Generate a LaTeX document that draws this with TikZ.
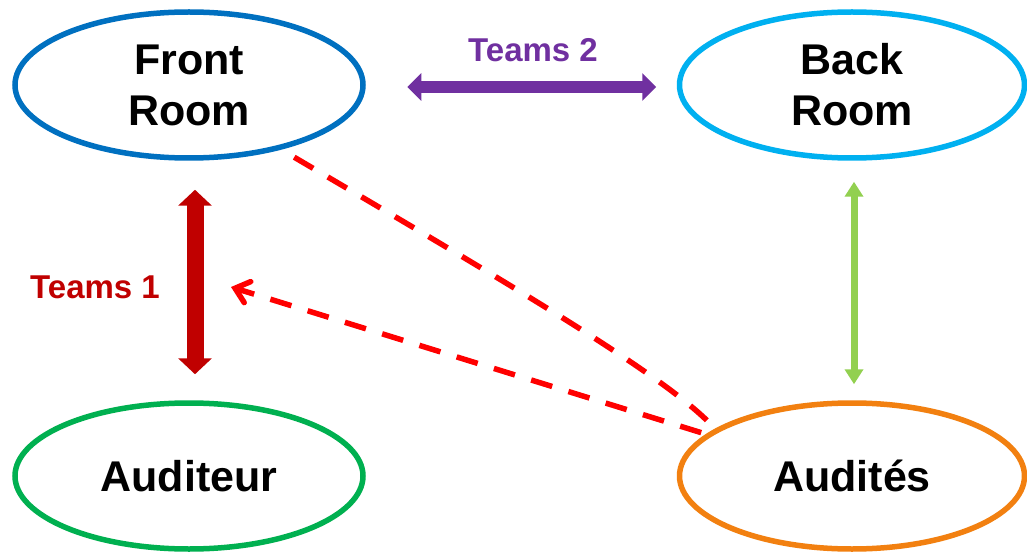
\documentclass[tikz,border=0pt]{standalone}
\usepackage{fontspec}
\setmainfont{Liberation Sans}
\usetikzlibrary{shapes.geometric,arrows.meta}
\definecolor{frblue}{RGB}{0,112,192}
\definecolor{brblue}{RGB}{0,176,240}
\definecolor{augreen}{RGB}{0,176,80}
\definecolor{adorange}{RGB}{242,128,16}
\definecolor{tpurple}{RGB}{112,48,160}
\definecolor{tdarkred}{RGB}{192,0,0}
\definecolor{lgreen}{RGB}{146,208,80}
\definecolor{dashred}{RGB}{255,0,0}
\tikzset{
  oval/.style={ellipse, draw, line width=5.5pt, minimum width=348pt, minimum height=146pt,
    inner sep=0pt, align=center, font=\bfseries\fontsize{43}{51}\selectfont},
  lbl/.style={font=\bfseries\fontsize{33}{38}\selectfont, inner sep=0pt},
  dashlink/.style={draw=dashred, line width=5.5pt, dash pattern=on 22pt off 17pt}
}
\begin{document}
\begin{tikzpicture}[x=1pt,y=-1pt]
\useasboundingbox[fill=white] (0,0) rectangle (1027,553);
\node[oval, draw=frblue] (fr) at (189,85) {Front\\Room};
\node[oval, draw=brblue, minimum width=345pt] (br) at (852,85) {Back\\Room};
\node[oval, draw=augreen] (au) at (189,476) {Auditeur};
\node[oval, draw=adorange, minimum width=345pt] (ad) at (852,476) {Audités};
% Teams 2
\draw[tpurple, line width=12pt, {Triangle[length=14pt,width=27pt]}-{Triangle[length=14pt,width=27pt]},
  shorten <=41.5pt, shorten >=20.5pt] ([yshift=-2pt]fr.east) -- ([yshift=-2pt]br.west);
\node[lbl, text=tpurple] (t2) at (533,50) {Teams 2};
% Teams 1
\draw[tdarkred, line width=17pt, {Triangle[length=16pt,width=33pt]}-{Triangle[length=16pt,width=33pt]},
  shorten <=29pt, shorten >=26pt] ([xshift=6pt]fr.south) -- ([xshift=6pt]au.north);
\node[lbl, text=tdarkred] (t1) at (95,287) {Teams 1};
% green link
\draw[lgreen, line width=7pt, {Triangle[length=15pt,width=18pt]}-{Triangle[length=15pt,width=18pt]},
  shorten <=21pt, shorten >=16pt] ([xshift=2pt]br.south) -- ([xshift=2pt]ad.north);
% dashed links
\draw[dashlink, shorten <=15pt] (fr.-35) .. controls (520,290) and (672,380) .. (ad.161);
\coordinate (tip) at (231,287);
\draw[dashlink, -{Straight Barb[length=13pt,width=22pt,line cap=round]}, shorten <=5pt] (ad.164) -- (tip);
\end{tikzpicture}
\end{document}
